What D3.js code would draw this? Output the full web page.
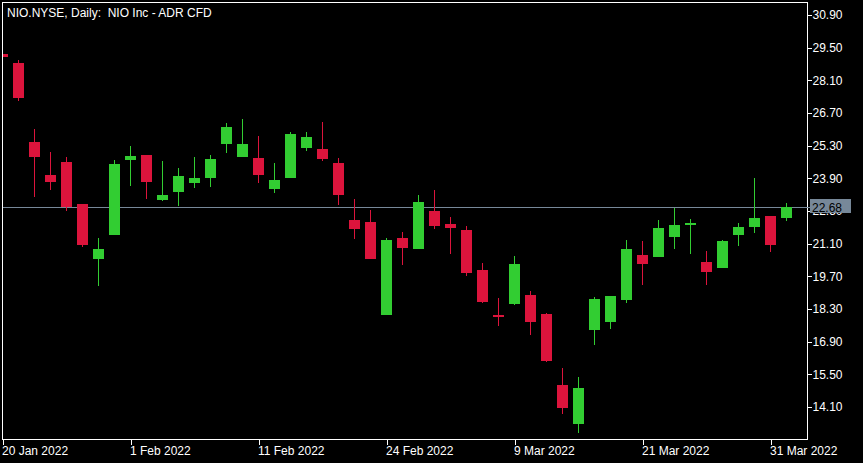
<!DOCTYPE html>
<html>
<head>
<meta charset="utf-8">
<script src="https://cdn.jsdelivr.net/npm/d3@7"></script>
<style>
  html, body { margin: 0; padding: 0; background: #000; }
  svg { display: block; }
  text { font-family: "Liberation Sans", Arial, sans-serif; font-size: 12px; }
</style>
</head>
<body>
<svg id="chart" width="863" height="463"></svg>
<script>
// ---- data ----
const dates = ["2022-01-20","2022-01-21","2022-01-24","2022-01-25","2022-01-26","2022-01-27","2022-01-28","2022-01-31",
  "2022-02-01","2022-02-02","2022-02-03","2022-02-04","2022-02-07","2022-02-08","2022-02-09","2022-02-10",
  "2022-02-11","2022-02-14","2022-02-15","2022-02-16","2022-02-17","2022-02-18","2022-02-22","2022-02-23",
  "2022-02-24","2022-02-25","2022-02-28","2022-03-01","2022-03-02","2022-03-03","2022-03-04","2022-03-08",
  "2022-03-09","2022-03-10","2022-03-11","2022-03-14","2022-03-15","2022-03-16","2022-03-17","2022-03-18",
  "2022-03-21","2022-03-22","2022-03-23","2022-03-24","2022-03-25","2022-03-28","2022-03-29","2022-03-30",
  "2022-03-31","2022-04-01"];
const open  = [29.24,28.84,25.46,24.04,24.60,22.80,20.46,21.48,24.70,24.90,22.98,23.33,23.71,23.93,25.38,24.83,
  24.77,23.46,23.93,25.21,25.16,24.56,22.11,22.03,18.06,21.34,20.88,22.50,21.94,21.69,19.97,18.04,
  18.53,18.90,18.09,15.04,13.38,17.41,17.76,18.70,20.61,20.54,21.40,21.91,20.31,20.07,21.48,21.83,22.29,22.21];
const high  = [29.27,28.97,26.01,25.03,24.81,22.80,21.34,24.69,25.29,24.90,24.64,24.34,24.81,24.90,26.27,26.44,
  25.71,24.56,25.89,25.89,26.31,24.77,23.01,22.54,21.34,21.60,23.19,23.40,22.24,21.86,20.27,18.77,
  20.57,19.07,18.13,15.77,15.39,18.81,18.86,21.26,21.21,22.11,22.63,22.16,20.79,21.26,21.99,23.91,22.29,22.84];
const low   = [29.06,27.23,23.11,23.41,22.51,20.97,19.30,21.48,23.58,23.03,22.94,22.73,23.50,23.54,25.00,24.83,
  23.71,23.28,23.93,25.08,24.66,22.77,21.31,20.46,18.06,20.20,20.88,21.74,20.67,19.73,18.57,17.58,
  18.48,17.20,16.04,13.81,13.00,16.77,17.46,18.57,19.34,20.54,20.88,20.67,19.34,20.07,21.01,21.57,20.76,22.08];
const close = [29.10,27.36,24.83,23.76,22.68,21.06,20.87,24.51,24.86,23.76,23.19,24.00,23.91,24.73,26.10,25.37,
  24.06,23.83,25.80,25.67,24.74,23.20,21.74,20.46,21.26,20.93,22.89,21.87,21.78,19.86,18.61,17.97,
  20.23,17.76,16.08,14.07,14.91,18.73,18.86,20.87,20.24,21.77,21.90,21.99,19.90,21.21,21.81,22.20,21.06,22.68];
const priceTicks = [14.10,15.50,16.90,18.30,19.70,21.10,22.50,23.90,25.30,26.70,28.10,29.50,30.90];
const dateTickDates  = ["2022-01-20","2022-02-01","2022-02-11","2022-02-24","2022-03-09","2022-03-21","2022-03-31"];
const dateTickLabels = ["20 Jan 2022","1 Feb 2022","11 Feb 2022","24 Feb 2022","9 Mar 2022","21 Mar 2022","31 Mar 2022"];
const lastPrice = 22.68;
const title = "NIO.NYSE, Daily:  NIO Inc - ADR CFD";

// ---- layout ----
const frame = {left: 2.5, right: 807.5, top: 2.5, bottom: 439.5};
const bull = "#32CD32", bear = "#DC143C", fg = "#FFFFFF", priceLineColor = "#778899";

const svg = d3.select("#chart");
svg.append("rect").attr("width", 863).attr("height", 463).attr("fill", "#000");

const x = d3.scalePoint().domain(dates).range([2.5, 786.5]);
const y = d3.scaleLinear().domain([14.10, 30.90]).range([407, 15]);

svg.append("defs").append("clipPath").attr("id", "clip")
  .append("rect").attr("x", 3).attr("y", 3).attr("width", 804).attr("height", 436);

const bars = dates.map((d, i) => ({d, o: open[i], h: high[i], l: low[i], c: close[i]}));

const plot = svg.append("g").attr("clip-path", "url(#clip)").attr("shape-rendering", "crispEdges");

// price line
const py = Math.round(y(lastPrice)) + 0.5;
plot.append("line").attr("x1", 3).attr("x2", 807).attr("y1", py).attr("y2", py)
  .attr("stroke", priceLineColor).attr("stroke-width", 1);

const g = plot.selectAll("g.bar").data(bars).join("g").attr("class", "bar");
g.append("rect")
  .attr("x", b => Math.round(x(b.d) - 0.5))
  .attr("width", 1)
  .attr("y", b => Math.round(y(b.h)))
  .attr("height", b => Math.max(1, Math.round(y(b.l)) - Math.round(y(b.h))))
  .attr("fill", b => b.c >= b.o ? bull : bear);
g.append("rect")
  .attr("x", b => Math.round(x(b.d) - 5.5))
  .attr("width", 11)
  .attr("y", b => Math.round(y(Math.max(b.o, b.c))))
  .attr("height", b => Math.max(2, Math.round(y(Math.min(b.o, b.c))) - Math.round(y(Math.max(b.o, b.c)))))
  .attr("fill", b => b.c >= b.o ? bull : bear);

// frame
svg.append("rect").attr("x", frame.left).attr("y", frame.top)
  .attr("width", frame.right - frame.left).attr("height", frame.bottom - frame.top)
  .attr("fill", "none").attr("stroke", fg).attr("stroke-width", 1).attr("shape-rendering", "crispEdges");

// y axis
const yAxis = d3.axisRight(y).tickValues(priceTicks).tickFormat(d3.format(".2f")).tickSize(4).tickPadding(1);
const ya = svg.append("g").attr("transform", `translate(${frame.right},0)`).call(yAxis);
ya.select(".domain").remove();
ya.selectAll(".tick line").attr("stroke", fg).attr("shape-rendering", "crispEdges");
ya.selectAll(".tick text").attr("fill", fg).attr("font-size", 12)
  .attr("font-family", "'Liberation Sans', Arial, sans-serif");

// x axis
const xAxis = d3.axisBottom(x).tickValues(dateTickDates)
  .tickFormat((d, i) => dateTickLabels[i]).tickSize(5).tickPadding(2);
const xa = svg.append("g").attr("transform", `translate(0,${frame.bottom})`).call(xAxis);
xa.select(".domain").remove();
xa.selectAll(".tick line").attr("stroke", fg).attr("shape-rendering", "crispEdges");
xa.selectAll(".tick text").attr("fill", fg).attr("font-size", 12).attr("text-anchor", "start")
  .attr("x", -1).attr("font-family", "'Liberation Sans', Arial, sans-serif");

// last price label
svg.append("rect").attr("x", 810).attr("y", py - 8.5).attr("width", 41).attr("height", 14)
  .attr("fill", priceLineColor).attr("shape-rendering", "crispEdges");
svg.append("line").attr("x1", 807).attr("x2", 810).attr("y1", py).attr("y2", py)
  .attr("stroke", priceLineColor).attr("shape-rendering", "crispEdges");
svg.append("text").attr("x", 812).attr("y", py + 4).attr("fill", "#000")
  .text(d3.format(".2f")(lastPrice));

// title
svg.append("text").attr("x", 7).attr("y", 16.5).attr("fill", fg)
  .attr("xml:space", "preserve").style("white-space", "pre").text(title);
</script>
</body>
</html>
